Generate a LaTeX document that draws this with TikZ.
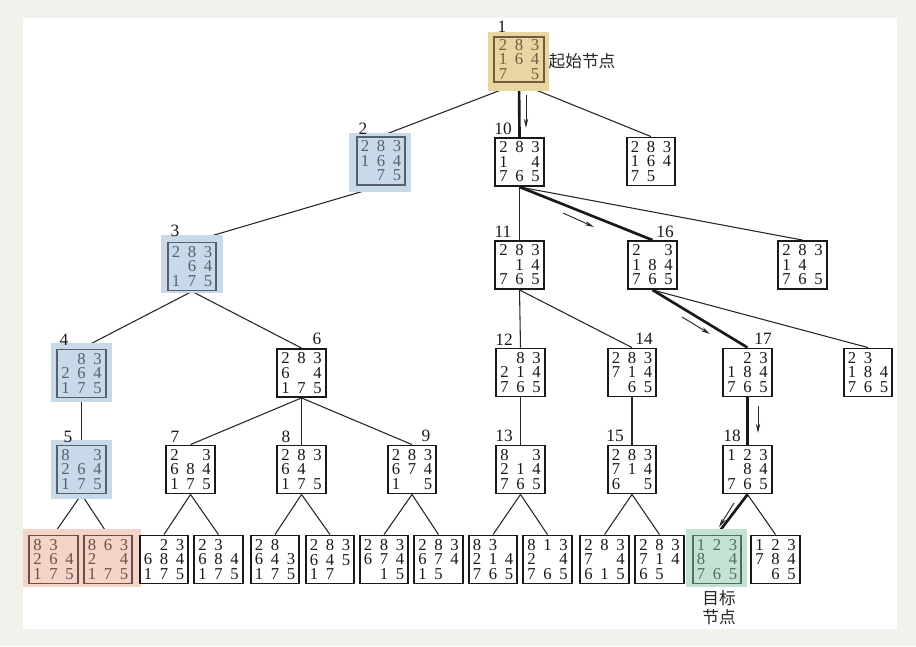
\documentclass[tikz,border=0pt]{standalone}
\usepackage{fontspec}
\setmainfont{Liberation Serif}
\newfontfamily\cjk{Noto Sans CJK SC}
\usetikzlibrary{arrows.meta}
\pgfdeclarelayer{bg}\pgfdeclarelayer{edges}\pgfdeclarelayer{hl}
\pgfsetlayers{bg,edges,hl,main}
\definecolor{pagebg}{HTML}{F3F1EC}
\definecolor{hlgold}{HTML}{E9D5A1}
\definecolor{hlblue}{HTML}{C8D9E9}
\definecolor{hlpink}{HTML}{F4D4C9}
\definecolor{hlgreen}{HTML}{C4E2D2}
\definecolor{goldtext}{HTML}{6E5E3E}
\definecolor{bluetext}{HTML}{55606C}
\definecolor{pinktext}{HTML}{6E4F46}
\definecolor{greentext}{HTML}{4E6E5E}
\newcommand\cellx[1]{\makebox[12pt]{#1}}
\newcommand\pz[9]{\cellx{#1}\cellx{#2}\cellx{#3}\\\cellx{#4}\cellx{#5}\cellx{#6}\\\cellx{#7}\cellx{#8}\cellx{#9}}
\tikzset{
  pbox/.style={draw=black!90, line width=1.4pt, minimum width=36.5pt, minimum height=36pt,
    inner sep=0pt, align=center, font=\fontsize{12.5}{10.9}\selectfont, text=black!90},
  pgold/.style={pbox, draw=goldtext, text=goldtext},
  pblue/.style={pbox, draw=bluetext, text=bluetext},
  ppink/.style={pbox, draw=pinktext, text=pinktext},
  pgreen/.style={pbox, draw=greentext, text=greentext},
  lab/.style={font=\fontsize{13}{13}\selectfont, inner sep=0pt, text=black!90},
  cjklab/.style={font=\cjk\fontsize{12.5}{14.5}\selectfont, inner sep=0pt, text=black!85, align=center},
  edgeline/.style={line width=0.8pt, draw=black!85},
  edgebold/.style={line width=2pt, draw=black!90},
  hint/.style={line width=0.7pt, draw=black!85, -{Stealth[length=7pt,width=3.2pt]}},
}
\begin{document}
\begin{tikzpicture}[x=0.75pt, y=-0.75pt]
\useasboundingbox (0,0) rectangle (916,646);
\begin{pgfonlayer}{bg}
  \fill[pagebg] (0,0) rectangle (916,646);
  \fill[white] (23,18) rectangle (897,629);
\end{pgfonlayer}
\begin{pgfonlayer}{hl}
  \fill[hlgold] (488,32) rectangle (549,91);
  \fill[hlblue] (349,133) rectangle (411,192);
  \fill[hlblue] (161,235) rectangle (223,293);
  \fill[hlblue] (51,343) rectangle (112,402);
  \fill[hlblue] (51,440) rectangle (112,499);
  \fill[hlpink] (23,529) rectangle (141,587);
  \fill[hlgreen] (686,529) rectangle (747,587);
\end{pgfonlayer}

% level 0
\node[pgold, minimum height=34pt, minimum width=37.5pt] (n1) at (519,59.5) {\pz{2}{8}{3}{1}{6}{4}{7}{}{5}};
% level 1
\node[pblue] (n2) at (381,161) {\pz{2}{8}{3}{1}{6}{4}{}{7}{5}};
\node[pbox] (n10) at (519.5,162) {\pz{2}{8}{3}{1}{}{4}{7}{6}{5}};
\node[pbox] (r1) at (651,161.5) {\pz{2}{8}{3}{1}{6}{4}{7}{5}{}};
% level 2
\node[pblue] (n3) at (192,266.5) {\pz{2}{8}{3}{}{6}{4}{1}{7}{5}};
\node[pbox] (n11) at (519.5,265) {\pz{2}{8}{3}{}{1}{4}{7}{6}{5}};
\node[pbox] (n16) at (652.5,265) {\pz{2}{}{3}{1}{8}{4}{7}{6}{5}};
\node[pbox] (r10) at (802.5,265) {\pz{2}{8}{3}{1}{4}{}{7}{6}{5}};
% level 3
\node[pblue] (n4) at (81.5,373.5) {\pz{}{8}{3}{2}{6}{4}{1}{7}{5}};
\node[pbox] (n6) at (301.5,373) {\pz{2}{8}{3}{6}{}{4}{1}{7}{5}};
\node[pbox] (n12) at (520.5,372.5) {\pz{}{8}{3}{2}{1}{4}{7}{6}{5}};
\node[pbox] (n14) at (632,372.5) {\pz{2}{8}{3}{7}{1}{4}{}{6}{5}};
\node[pbox] (n17) at (747.5,372.5) {\pz{}{2}{3}{1}{8}{4}{7}{6}{5}};
\node[pbox] (r16) at (868,372.5) {\pz{2}{3}{}{1}{8}{4}{7}{6}{5}};
% level 4
\node[pblue] (n5) at (81.5,469.5) {\pz{8}{}{3}{2}{6}{4}{1}{7}{5}};
\node[pbox] (n7) at (190.5,469.5) {\pz{2}{}{3}{6}{8}{4}{1}{7}{5}};
\node[pbox] (n8) at (301.5,469.5) {\pz{2}{8}{3}{6}{4}{}{1}{7}{5}};
\node[pbox] (n9) at (412,469.5) {\pz{2}{8}{3}{6}{7}{4}{1}{}{5}};
\node[pbox] (n13) at (520.5,469.5) {\pz{8}{}{3}{2}{1}{4}{7}{6}{5}};
\node[pbox] (n15) at (632,469.5) {\pz{2}{8}{3}{7}{1}{4}{6}{}{5}};
\node[pbox] (n18) at (747.5,469.5) {\pz{1}{2}{3}{}{8}{4}{7}{6}{5}};
% leaves
\node[ppink] (la) at (53.5,559.5) {\pz{8}{3}{}{2}{6}{4}{1}{7}{5}};
\node[ppink] (lb) at (108,559.5) {\pz{8}{6}{3}{2}{}{4}{1}{7}{5}};
\node[pbox] (lc) at (164,559.5) {\pz{}{2}{3}{6}{8}{4}{1}{7}{5}};
\node[pbox] (ld) at (218.5,559.5) {\pz{2}{3}{}{6}{8}{4}{1}{7}{5}};
\node[pbox] (le) at (275,559.5) {\pz{2}{8}{}{6}{4}{3}{1}{7}{5}};
\node[pbox] (lf) at (330,559.5) {\pz{2}{8}{3}{6}{4}{5}{1}{7}{}};
\node[pbox] (lg) at (384,559.5) {\pz{2}{8}{3}{6}{7}{4}{}{1}{5}};
\node[pbox] (lh) at (438.5,559.5) {\pz{2}{8}{3}{6}{7}{4}{1}{5}{}};
\node[pbox] (li) at (493,559.5) {\pz{8}{3}{}{2}{1}{4}{7}{6}{5}};
\node[pbox] (lj) at (547.5,559.5) {\pz{8}{1}{3}{2}{}{4}{7}{6}{5}};
\node[pbox] (lk) at (604.5,559.5) {\pz{2}{8}{3}{7}{}{4}{6}{1}{5}};
\node[pbox] (ll) at (659.5,559.5) {\pz{2}{8}{3}{7}{1}{4}{6}{5}{}};
\node[pgreen] (goal) at (717,559.5) {\pz{1}{2}{3}{8}{}{4}{7}{6}{5}};
\node[pbox] (ln) at (775.5,559.5) {\pz{1}{2}{3}{7}{8}{4}{}{6}{5}};

% number labels
\node[lab] (lab1) at (502,27) {1};
\node[lab] (lab2) at (363,129) {2};
\node[lab] (lab3) at (175,231) {3};
\node[lab] (lab4) at (64,340) {4};
\node[lab] (lab5) at (68,437) {5};
\node[lab] (lab6) at (317,339) {6};
\node[lab] (lab7) at (175,437) {7};
\node[lab] (lab8) at (286,437) {8};
\node[lab] (lab9) at (426,436) {9};
\node[lab] (lab10) at (503,129) {10};
\node[lab] (lab11) at (503,232) {11};
\node[lab] (lab12) at (504,340) {12};
\node[lab] (lab13) at (504,436) {13};
\node[lab] (lab14) at (644,339) {14};
\node[lab] (lab15) at (615,436) {15};
\node[lab] (lab16) at (665,232) {16};
\node[lab] (lab17) at (763,339) {17};
\node[lab] (lab18) at (732,436) {18};
\node[cjklab] (start) at (582,61) {起始节点};
\node[cjklab] (goaltxt) at (719,607.5) {目标\\节点};

\begin{pgfonlayer}{edges}
  \foreach \a/\b in {n1/n2, n1/r1, n2/n3, n3/n4, n3/n6, n4/n5, n5/la, n5/lb,
      n6/n7, n6/n8, n6/n9, n7/lc, n7/ld, n8/le, n8/lf, n9/lg, n9/lh,
      n10/n11, n10/r10, n11/n12, n11/n14, n12/n13, n13/li, n13/lj,
      n14/n15, n15/lk, n15/ll, n16/r16, n18/ln}
    \draw[edgeline] (\a.south) -- (\b.north);
  \foreach \a/\b in {n1/n10, n10/n16, n16/n17, n17/n18, n18/goal}
    \draw[edgebold] (\a.south) -- (\b.north);
\end{pgfonlayer}

% direction hints
\coordinate (h1a) at (526,95);  \coordinate (h1b) at (526,128);
\coordinate (h2a) at (563,213); \coordinate (h2b) at (594,227);
\coordinate (h3a) at (682,317); \coordinate (h3b) at (710,334);
\coordinate (h4a) at (758,406); \coordinate (h4b) at (758,433);
\coordinate (h5a) at (734,503); \coordinate (h5b) at (719,527);
\draw[hint] (h1a) -- (h1b);
\draw[hint] (h2a) -- (h2b);
\draw[hint] (h3a) -- (h3b);
\draw[hint] (h4a) -- (h4b);
\draw[hint] (h5a) -- (h5b);
\end{tikzpicture}
\end{document}
